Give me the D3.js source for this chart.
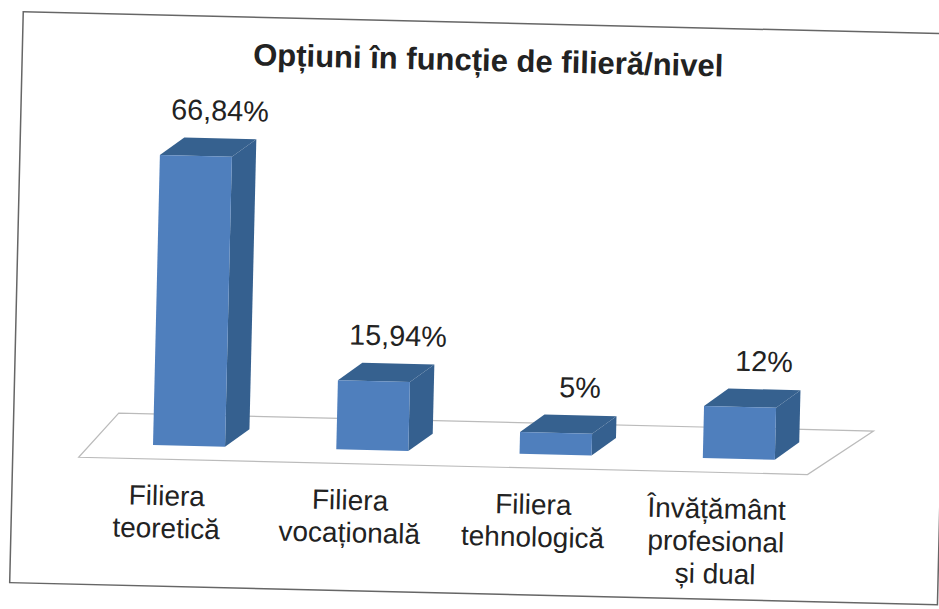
<!DOCTYPE html>
<html>
<head>
<meta charset="utf-8">
<script src="https://cdn.jsdelivr.net/npm/d3@7/dist/d3.min.js"></script>
<style>
  html, body { margin: 0; padding: 0; background: #fff; }
  svg { display: block; }
  text { font-family: "Liberation Sans", Arial, sans-serif; fill: #222; }
</style>
</head>
<body>
<div id="chart"></div>
<script>
const title = "Opțiuni în funcție de filieră/nivel";
const categories = ["Filiera teoretică", "Filiera vocațională", "Filiera tehnologică", "Învățământ profesional și dual"];
const categoryLines = [
  ["Filiera", "teoretică"],
  ["Filiera", "vocațională"],
  ["Filiera", "tehnologică"],
  ["Învățământ", "profesional", "și dual"]
];
const values = [66.84, 15.94, 5, 12];
const valueLabels = ["66,84%", "15,94%", "5%", "12%"];

const width = 939, height = 609;
const baseline = 445;
const depthX = 24, depthY = 18;

let svg = d3.select("#chart").append("svg")
  .attr("width", width)
  .attr("height", height);

// the page was scanned a little crooked, everything sits in one rotated group
let g = svg.append("g")
  .attr("transform", "rotate(1.36 153 445)");

let x = d3.scaleBand()
  .domain(categories)
  .range([153, 775])
  .paddingInner(0.607)
  .paddingOuter(0);

let y = d3.scaleLinear()
  .domain([0, 70])
  .range([baseline, baseline - 70 * 4.34]);

// chart frame
g.append("rect")
  .attr("x", 13)
  .attr("y", 15)
  .attr("width", 928)
  .attr("height", 571)
  .attr("fill", "#fff")
  .attr("stroke", "#666")
  .attr("stroke-width", 1.5);

// floor
let floorLeft = x.range()[0] - 74, floorRight = x.range()[1] + 33, floorFront = baseline + 14;
g.append("path")
  .attr("d", "M" + floorLeft + "," + floorFront
    + "L" + (floorLeft + 39) + "," + (floorFront - 45)
    + "L" + (floorRight + 65) + "," + (floorFront - 45)
    + "L" + floorRight + "," + floorFront + "Z")
  .attr("fill", "#fff")
  .attr("stroke", "#bbb")
  .attr("stroke-width", 1.2);

// bars
let bars = g.selectAll(".bar")
  .data(values)
  .enter()
  .append("g")
  .classed("bar", true);

// lato destro
bars.append("path")
  .attr("d", function(d, i) {
    let x1 = x(categories[i]) + x.bandwidth(), top = y(d);
    return "M" + x1 + "," + top
      + "L" + (x1 + depthX) + "," + (top - depthY)
      + "L" + (x1 + depthX) + "," + (baseline - depthY)
      + "L" + x1 + "," + baseline + "Z";
  })
  .attr("fill", "#35608f");

// faccia superiore
bars.append("path")
  .attr("d", function(d, i) {
    let x0 = x(categories[i]), x1 = x0 + x.bandwidth(), top = y(d);
    return "M" + x0 + "," + top
      + "L" + (x0 + depthX) + "," + (top - depthY)
      + "L" + (x1 + depthX) + "," + (top - depthY)
      + "L" + x1 + "," + top + "Z";
  })
  .attr("fill", "#36618f");

// faccia frontale
bars.append("rect")
  .attr("x", function(d, i) { return x(categories[i]); })
  .attr("y", function(d) { return y(d); })
  .attr("width", x.bandwidth())
  .attr("height", function(d) { return baseline - y(d); })
  .attr("fill", "#4f7fbd");

// value labels
g.selectAll(".value")
  .data(values)
  .enter()
  .append("text")
  .classed("value", true)
  .attr("x", function(d, i) { return x(categories[i]) + x.bandwidth() / 2 + 23; })
  .attr("y", function(d) { return y(d) - 36; })
  .attr("text-anchor", "middle")
  .attr("font-size", 28.8)
  .text(function(d, i) { return valueLabels[i]; });

// category labels
let labels = g.selectAll(".category")
  .data(categoryLines)
  .enter()
  .append("text")
  .classed("category", true)
  .attr("text-anchor", "middle")
  .attr("font-size", 28);

labels.selectAll("tspan")
  .data(function(d, i) {
    return d.map(function(line) { return { line: line, cat: categories[i] }; });
  })
  .enter()
  .append("tspan")
  .attr("x", function(d) { return x(d.cat) + x.bandwidth() / 2 - 21; })
  .attr("y", function(d, i) { return baseline + 60 + i * 32.5; })
  .text(function(d) { return d.line; });

// title
g.append("text")
  .attr("x", 479)
  .attr("y", 63)
  .attr("text-anchor", "middle")
  .attr("font-size", 31)
  .attr("font-weight", "bold")
  .text(title);
</script>
</body>
</html>
